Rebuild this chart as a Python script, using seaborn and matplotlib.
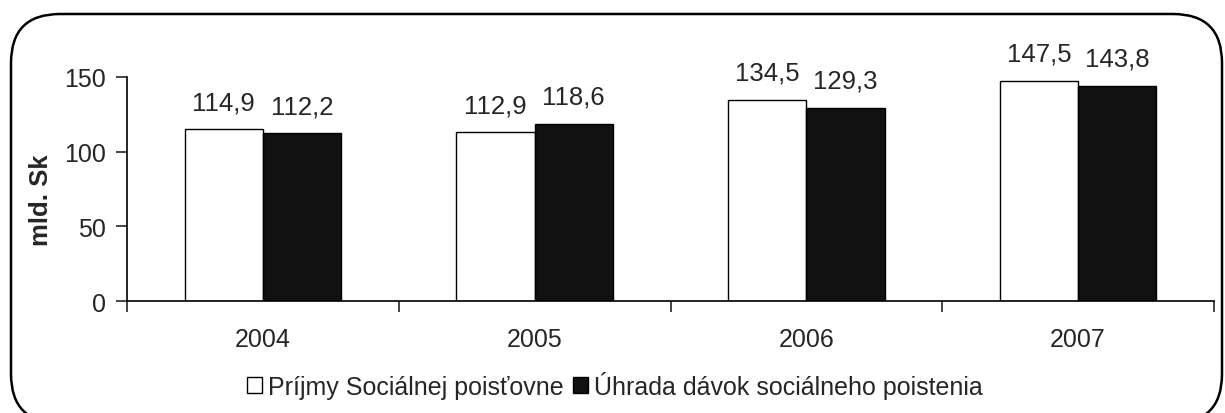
import pandas as pd
import matplotlib
matplotlib.use("Agg")
import matplotlib.pyplot as plt
import seaborn as sns
from matplotlib.patches import FancyBboxPatch, Patch

# data
years = ["2004", "2005", "2006", "2007"]
prijmy = [114.9, 112.9, 134.5, 147.5]
uhrada = [112.2, 118.6, 129.3, 143.8]
series_names = ["Príjmy Sociálnej poisťovne", "Úhrada dávok sociálneho poistenia"]
y_ticks = [0, 50, 100, 150]

sns.set_style("white")
plt.rcParams["font.family"] = ["Liberation Sans", "DejaVu Sans"]

df = pd.DataFrame({
    "rok": years * 2,
    "hodnota": prijmy + uhrada,
    "rad": [series_names[0]] * len(years) + [series_names[1]] * len(years),
})

fig = plt.figure(figsize=(12.25, 4.14), dpi=100)
ax = fig.add_axes([0.1037, 0.2705, 0.991 - 0.1037, 0.8116 - 0.2705])

sns.barplot(data=df, x="rok", y="hodnota", hue="rad", ax=ax,
            palette=["white", "#111111"], width=0.576, gap=0,
            edgecolor="black", linewidth=1.0, legend=False)

for cont in ax.containers:
    ax.bar_label(cont, labels=[f"{v:.1f}".replace(".", ",") for v in cont.datavalues],
                 padding=11, fontsize=18.5)

ax.set_ylim(0, 150)
ax.set_xlim(-0.5, len(years) - 0.5)
ax.set_yticks(y_ticks)
ax.set_ylabel("mld. Sk", fontsize=18.5, fontweight="bold")
ax.yaxis.set_label_coords(-0.068, 0.455)
ax.set_xlabel("")

# category ticks between groups, labels centred
ax.set_xticks([i - 0.5 for i in range(len(years) + 1)])
ax.set_xticklabels([])
ax.set_xticks(range(len(years)), minor=True)
ax.set_xticklabels(years, minor=True, fontsize=18)
ax.tick_params(axis="x", which="major", length=8, width=1.2, direction="out", bottom=True)
ax.tick_params(axis="x", which="minor", length=0, pad=19)
ax.tick_params(axis="y", length=8, width=1.2, direction="out", left=True, labelsize=18, pad=7)

for side in ["top", "right"]:
    ax.spines[side].set_visible(False)
for side in ["left", "bottom"]:
    ax.spines[side].set_linewidth(1.2)
    ax.spines[side].set_color("black")

handles = [Patch(facecolor="white", edgecolor="black", linewidth=1.0),
           Patch(facecolor="#111111", edgecolor="black", linewidth=1.0)]
fig.legend(handles, series_names, loc="center", bbox_to_anchor=(0.502, 0.068),
           ncol=2, frameon=False, fontsize=18, handlelength=0.6, handleheight=0.6,
           handletextpad=0.25, columnspacing=0.35)

# rounded frame around the whole chart
frame = FancyBboxPatch((11 / 1225, -10 / 414), 1211 / 1225, 409 / 414,
                       boxstyle="round,pad=0,rounding_size=0.04",
                       transform=fig.transFigure, facecolor="none",
                       edgecolor="black", linewidth=1.8, mutation_aspect=1225 / 414)
fig.patches.append(frame)

fig.savefig("out.png", dpi=100)
